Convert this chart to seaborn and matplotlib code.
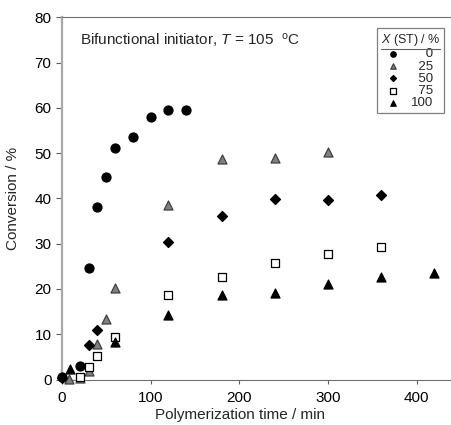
import numpy as np
import pandas as pd
import seaborn as sns
import matplotlib.pyplot as plt

# data: conversion (%) vs polymerization time (min)
t_st0 = [0, 20, 30, 40, 50, 60, 80, 100, 120, 140]
x_st0 = [0.5, 3.0, 24.7, 38.2, 44.8, 51.1, 53.6, 58.0, 59.6, 59.6]

t_st25 = [8, 20, 30, 40, 50, 60, 120, 180, 240, 300]
x_st25 = [0.1, 0.4, 1.9, 7.8, 13.4, 20.3, 38.5, 48.7, 48.9, 50.3]

t_st50 = [0, 30, 40, 120, 180, 240, 300, 360]
x_st50 = [0.4, 7.6, 11.0, 30.4, 36.1, 39.8, 39.6, 40.7]

t_st75 = [20, 30, 40, 60, 120, 180, 240, 300, 360]
x_st75 = [0.5, 2.8, 5.2, 9.5, 18.6, 22.6, 25.7, 27.8, 29.2]

t_st100 = [9, 60, 120, 180, 240, 300, 360, 420]
x_st100 = [2.3, 8.2, 14.2, 18.6, 19.1, 21.2, 22.7, 23.5]

labels = ["0", "25", "50", "75", "100"]

sns.set_style("white")
plt.rcParams['font.family'] = ['Liberation Sans', 'DejaVu Sans']
plt.rcParams['mathtext.fontset'] = 'custom'
plt.rcParams['mathtext.rm'] = 'Liberation Sans'
plt.rcParams['mathtext.it'] = 'Liberation Sans:italic'

fig = plt.figure(figsize=(4.52, 4.25), dpi=100)
ax = fig.add_axes([0.137, 0.107, 0.863, 0.852])

series = [
    (t_st0, x_st0, "o", "black", "black", 42),
    (t_st25, x_st25, "^", "#808080", "#404040", 42),
    (t_st50, x_st50, "D", "black", "black", 26),
    (t_st75, x_st75, "s", "white", "black", 38),
    (t_st100, x_st100, "^", "black", "black", 42),
]
for (t, x, m, fc, ec, s), lab in zip(series, labels):
    sns.scatterplot(x=t, y=x, marker=m, color=fc, edgecolor=ec, linewidth=0.9,
                    s=s, label="\u2007" * (3 - len(lab)) + lab, ax=ax,
                    clip_on=False, zorder=3)

ax.set_xlim(0, 440)
ax.set_ylim(0, 80)
ax.set_xticks([0, 100, 200, 300, 400])
ax.set_yticks(range(0, 81, 10))
ax.tick_params(axis='both', labelsize=11, labelcolor='black', length=4,
               width=0.8, direction='out', left=True, bottom=True,
               color='#606060')
ax.tick_params(axis='x', length=3, pad=5)

ax.spines['right'].set_visible(False)
ax.spines['left'].set_color('#a8a8a8')
ax.spines['left'].set_linewidth(1.6)
ax.spines['bottom'].set_color('#707070')
ax.spines['bottom'].set_linewidth(0.8)
ax.spines['bottom'].set_linestyle((0, (2, 1)))
ax.spines['top'].set_color('#707070')
ax.spines['top'].set_linewidth(0.8)

ax.set_xlabel("Polymerization time / min", fontsize=11)
ax.set_ylabel("Conversion / %", fontsize=11)
ax.xaxis.set_label_coords((240 - 62) / 390, -0.078)
ax.yaxis.set_label_coords(-0.108, 0.5)

ax.text(0.046, 0.938, r"Bifunctional initiator, $\it{T}$ = 105  $^{\rm o}$C",
        transform=ax.transAxes, fontsize=11, va='center', ha='left')

leg = ax.legend(title=r"$\it{X}$ (ST) / %", loc='upper right',
                bbox_to_anchor=(0.98, 0.97), fontsize=9.5, title_fontsize=9,
                frameon=True, fancybox=False, edgecolor='#606060',
                handletextpad=1.0, borderpad=0.3, labelspacing=0.0,
                handlelength=0.8, borderaxespad=0.0, markerscale=0.6)
leg.get_frame().set_linewidth(0.9)

fig.canvas.draw()
tb = leg.get_title().get_window_extent().transformed(fig.transFigure.inverted())
fig.add_artist(plt.Line2D([tb.x0, tb.x1], [tb.y0 - 0.002, tb.y0 - 0.002],
                          transform=fig.transFigure, color='#606060', lw=0.8))

fig.savefig("out.png", dpi=100)
